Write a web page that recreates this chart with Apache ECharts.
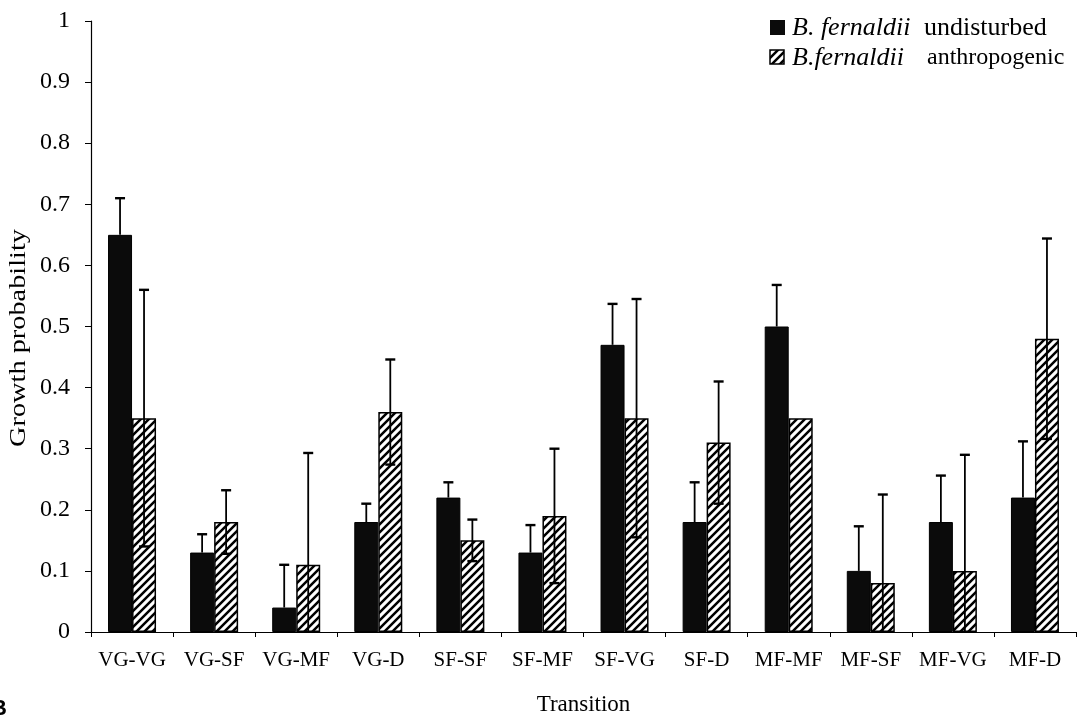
<!DOCTYPE html>
<html>
<head>
<meta charset="utf-8">
<script src="https://cdn.jsdelivr.net/npm/echarts@6/dist/echarts.min.js"></script>
<style>
  html, body { margin: 0; padding: 0; background: #fff; }
  #chart { width: 1083px; height: 721px; }
</style>
</head>
<body>
<div id="chart"></div>
<script>
// Transition categories along the x axis
var categories = ['VG-VG', 'VG-SF', 'VG-MF', 'VG-D', 'SF-SF', 'SF-MF', 'SF-VG', 'SF-D', 'MF-MF', 'MF-SF', 'MF-VG', 'MF-D'];
// Growth probabilities and their standard errors
var undisturbed = [0.65, 0.13, 0.04, 0.18, 0.22, 0.13, 0.47, 0.18, 0.50, 0.10, 0.18, 0.22];
var undisturbedErr = [0.06, 0.03, 0.07, 0.03, 0.025, 0.045, 0.067, 0.065, 0.068, 0.073, 0.076, 0.092];
var anthropogenic = [0.35, 0.18, 0.11, 0.36, 0.15, 0.19, 0.35, 0.31, 0.35, 0.08, 0.10, 0.48];
var anthropogenicErr = [0.21, 0.052, 0.183, 0.086, 0.034, 0.11, 0.195, 0.10, 0, 0.145, 0.19, 0.164];
var yTicks = ['0', '0.1', '0.2', '0.3', '0.4', '0.5', '0.6', '0.7', '0.8', '0.9', '1'];

var FONT = '"Liberation Serif", "Times New Roman", serif';
var BAR_W = 24;

// diagonal hatch fill
function makeHatch() {
  var s = 8;
  var c = document.createElement('canvas');
  c.width = s; c.height = s;
  var g = c.getContext('2d');
  g.fillStyle = '#fff';
  g.fillRect(0, 0, s, s);
  g.strokeStyle = '#000';
  g.lineWidth = 2.5;
  g.beginPath();
  g.moveTo(-2, s + 2); g.lineTo(s + 2, -2);
  g.moveTo(-2, 2); g.lineTo(2, -2);
  g.moveTo(s - 2, s + 2); g.lineTo(s + 2, s - 2);
  g.stroke();
  return c;
}
var hatch = { image: makeHatch(), repeat: 'repeat' };

function errData(vals, errs) {
  return vals.map(function (v, i) { return [i, v, errs[i]]; });
}

function errorRenderer(offset, showLower) {
  return function (params, api) {
    var i = api.value(0), v = api.value(1), e = api.value(2);
    if (!e) return null;
    var base = api.coord([i, v]);
    var x = base[0] + offset;
    var top = api.coord([i, v + e])[1];
    var lowVal = Math.max(0, v - e);
    var low = api.coord([i, lowVal])[1];
    var cap = 5;
    var children = [
      { type: 'line', shape: { x1: x, y1: top, x2: x, y2: showLower ? low : base[1] },
        style: { stroke: '#000', lineWidth: 1.8 } },
      { type: 'line', shape: { x1: x - cap, y1: top, x2: x + cap, y2: top },
        style: { stroke: '#000', lineWidth: 2.4 } }
    ];
    if (showLower && v - e > 0) {
      children.push({ type: 'line', shape: { x1: x - cap, y1: low, x2: x + cap, y2: low },
        style: { stroke: '#000', lineWidth: 2.4 } });
    }
    return { type: 'group', children: children };
  };
}

var chart = echarts.init(document.getElementById('chart'), null, { renderer: 'canvas' });

var legendX = 770;
var option = {
  backgroundColor: '#fff',
  animation: false,
  grid: { left: 91, right: 7, top: 21, bottom: 87 },
  xAxis: {
    type: 'category',
    data: categories,
    name: 'Transition',
    nameLocation: 'middle',
    nameGap: 61,
    nameTextStyle: { fontFamily: FONT, fontSize: 23, color: '#000' },
    axisLine: { lineStyle: { color: '#000', width: 1.2 } },
    axisTick: { show: true, alignWithLabel: false, length: 5, lineStyle: { color: '#000' } },
    axisLabel: { fontFamily: FONT, fontSize: 21, color: '#000', margin: 18, interval: 0 }
  },
  yAxis: {
    type: 'value',
    min: 0, max: 1, interval: 0.1,
    splitLine: { show: false },
    axisLine: { show: true, lineStyle: { color: '#000', width: 1.2 } },
    axisTick: { show: true, length: 6, lineStyle: { color: '#000' } },
    axisLabel: {
      fontFamily: FONT, fontSize: 24, color: '#000', margin: 21,
      formatter: function (val) { return yTicks[Math.round(val * 10)]; }
    }
  },
  series: [
    {
      name: 'undisturbed', type: 'bar', data: undisturbed,
      barWidth: BAR_W, barGap: '0%',
      itemStyle: { color: '#0b0b0b', borderColor: '#000', borderWidth: 1 }
    },
    {
      name: 'anthropogenic', type: 'bar', data: anthropogenic,
      barWidth: BAR_W, barGap: '0%',
      itemStyle: { color: hatch, borderColor: '#000', borderWidth: 1.5 }
    },
    {
      type: 'custom', renderItem: errorRenderer(-BAR_W / 2, false),
      data: errData(undisturbed, undisturbedErr), z: 10, silent: true
    },
    {
      type: 'custom', renderItem: errorRenderer(BAR_W / 2, true),
      data: errData(anthropogenic, anthropogenicErr), z: 10, silent: true
    }
  ],
  graphic: [
    // y axis title
    { type: 'text', x: 19, y: 338, rotation: Math.PI / 2, scaleX: 1.18,
      style: { text: 'Growth probability', font: '24px ' + FONT, fill: '#000',
               align: 'center', verticalAlign: 'middle' } },
    // legend
    { type: 'rect', x: legendX, y: 20, shape: { width: 15, height: 15 },
      style: { fill: '#0b0b0b' } },
    { type: 'text', x: legendX + 22, y: 28,
      style: { text: 'B. fernaldii', font: 'italic 26px ' + FONT, fill: '#000', verticalAlign: 'middle' } },
    { type: 'text', x: 924, y: 28,
      style: { text: 'undisturbed', font: '26px ' + FONT, fill: '#000', verticalAlign: 'middle' } },
    { type: 'rect', x: legendX, y: 50, shape: { width: 14, height: 14 },
      style: { fill: hatch, stroke: '#000', lineWidth: 1.5 } },
    { type: 'text', x: legendX + 22, y: 58,
      style: { text: 'B.fernaldii', font: 'italic 26px ' + FONT, fill: '#000', verticalAlign: 'middle' } },
    { type: 'text', x: 927, y: 58,
      style: { text: 'anthropogenic', font: '24px ' + FONT, fill: '#000', verticalAlign: 'middle' } },
    // panel letter
    { type: 'text', x: -9, y: 698,
      style: { text: 'B', font: 'bold 22px "Liberation Sans", Arial, sans-serif', fill: '#000' } }
  ]
};
chart.setOption(option);
</script>
</body>
</html>
